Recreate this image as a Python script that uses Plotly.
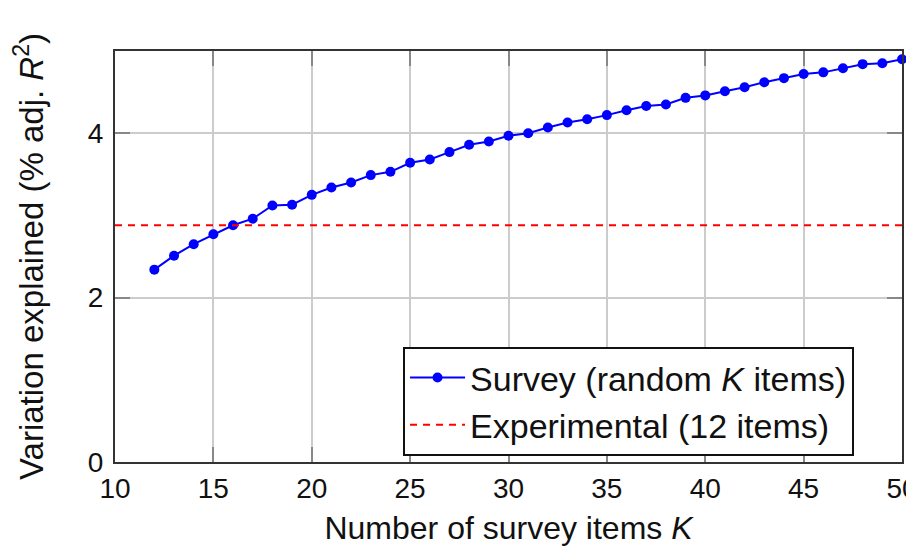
import plotly.graph_objects as go

# Data
K_values = list(range(12, 51))
survey_r2 = [2.34, 2.51, 2.65, 2.77, 2.88, 2.96, 3.12, 3.13, 3.25, 3.34,
             3.40, 3.49, 3.53, 3.64, 3.68, 3.77, 3.86, 3.90, 3.97, 4.00,
             4.07, 4.13, 4.17, 4.22, 4.28, 4.33, 4.35, 4.43, 4.46, 4.51,
             4.56, 4.62, 4.67, 4.72, 4.74, 4.79, 4.84, 4.85, 4.90]
experimental_K = [10, 50]
experimental_r2 = [2.88, 2.88]
x_ticks = [10, 15, 20, 25, 30, 35, 40, 45, 50]
y_ticks = [0, 2, 4]

FONT = "Liberation Sans"

fig = go.Figure()
fig.add_trace(go.Scatter(
    x=K_values, y=survey_r2, mode="lines+markers",
    name="Survey (random <i>K</i> items)",
    line=dict(color="#0000ff", width=2),
    marker=dict(color="#0000ff", size=10),
    cliponaxis=False,
))
fig.add_trace(go.Scatter(
    x=experimental_K, y=experimental_r2, mode="lines",
    name="Experimental (12 items)",
    line=dict(color="#ff0000", width=2, dash="7px,6px"),
))

axis_common = dict(
    showline=True, linecolor="#333333", linewidth=2, mirror="ticks",
    ticks="inside", ticklen=15, tickwidth=2, tickcolor="#888888",
    showgrid=True, gridcolor="#cccccc", gridwidth=1.5,
    zeroline=False, automargin=False,
    tickfont=dict(family=FONT, size=28, color="#111111"),
)

fig.update_layout(
    width=914, height=548,
    margin=dict(l=107, r=20, t=43, b=94),
    paper_bgcolor="white", plot_bgcolor="white",
    font=dict(family=FONT, color="#111111"),
    xaxis=dict(range=[10, 50], tickvals=x_ticks, **axis_common,
               ticklabelstandoff=0,
               title=dict(text="Number of survey items <i>K</i>",
                          font=dict(family=FONT, size=32), standoff=14)),
    yaxis=dict(range=[0, 5], tickvals=y_ticks, **axis_common,
               ticklabelstandoff=4,
               title=dict(text="Variation explained (% adj. <i>R</i><sup>2</sup>)",
                          font=dict(family=FONT, size=33), standoff=35)),
    legend=dict(x=0.366, y=0.28, xanchor="left", yanchor="top",
                bordercolor="#111111", borderwidth=2, bgcolor="white",
                font=dict(family=FONT, size=34, color="#111111"),
                itemwidth=55, tracegroupgap=0),
    showlegend=True,
)

fig.write_html("out.html")
